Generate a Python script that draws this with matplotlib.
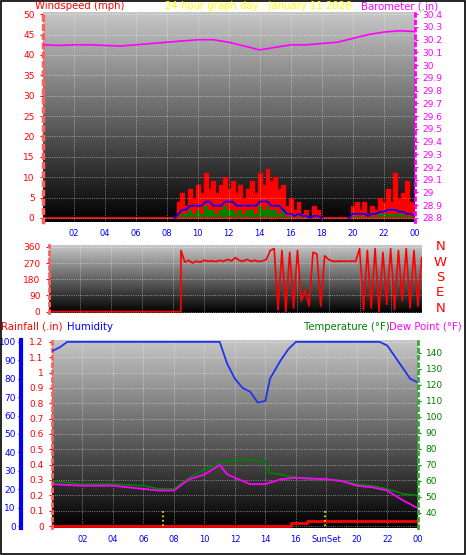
import numpy as np
import matplotlib
matplotlib.use("Agg")
from matplotlib import pyplot as plt
from matplotlib.patches import Rectangle

# ---- data ----
baro_hours = np.arange(0, 25)
baro = [30.16, 30.155, 30.16, 30.16, 30.155, 30.15, 30.16, 30.17, 30.18, 30.19, 30.2, 30.2,
        30.18, 30.15, 30.12, 30.14, 30.16, 30.16, 30.17, 30.18, 30.21, 30.24, 30.26, 30.27, 30.265]

wind_t1 = np.arange(8.5, 18.01, 0.25)
gust1 = [0, 4, 6, 3, 7, 5, 8, 6, 11, 7, 9, 6, 8, 10, 7, 9, 6, 8, 5, 7,
         9, 6, 11, 8, 12, 9, 10, 7, 8, 3, 5, 2, 4, 1, 2, 0, 3, 2, 0]
avg1 = [0, 1, 2, 2, 3, 3, 3, 3, 4, 4, 3, 3, 3, 4, 4, 4, 3, 3, 3, 3,
        3, 3, 4, 4, 4, 3, 3, 3, 2, 1, 1, 0.5, 1, 0.5, 0.5, 0, 0.5, 0.5, 0]
speed1 = [0, 0.5, 1, 1, 2, 1, 2, 1, 3, 2, 2, 1, 2, 3, 2, 2, 1, 2, 1, 2,
          2, 1, 3, 2, 3, 2, 2, 1, 2, 0.5, 0.5, 0, 0.5, 0, 0, 0, 0, 0, 0]
wind_t2 = np.arange(19.75, 24.01, 0.25)
gust2 = [0, 3, 4, 2, 4, 1, 3, 2, 5, 4, 7, 4, 11, 5, 6, 9, 4, 2]
avg2 = [0, 1, 1, 1, 1, 0.5, 1, 1, 1.5, 1.5, 2, 2, 2, 1.5, 1.5, 1, 1, 0.5]
speed2 = [0, 0.5, 0.5, 0.5, 0.5, 0, 0.5, 0.5, 1, 1, 1, 1, 1, 1, 1, 0.5, 0.5, 0.5]

dir_t = np.arange(8.5, 24.01, 0.25)
wind_dir = [340, 275,
            285, 270, 280, 275,
            285, 280, 282, 278,
            285, 280, 290, 282,
            300, 285, 280, 290,
            280, 285, 278, 282,
            290, 340, 350, 10,
            340, 0, 330, 20,
            340, 60, 120, 30,
            330, 320, 30, 310,
            290, 280, 280, 280,
            280, 280, 280, 280,
            350, 10, 340, 20,
            350, 0, 330, 40,
            350, 10, 340, 60,
            350, 20, 340, 30,
            300]

hum_t = [0, 0.5, 1, 11, 11.5, 12, 12.5, 13, 13.5, 14, 14.3, 15, 15.5, 16, 21.5, 22, 22.5, 23, 23.5, 24]
humidity = [95, 97, 100, 100, 88, 80, 75, 73, 67, 68, 80, 90, 96, 100, 100, 98, 92, 86, 80, 78]

temp_t = [0, 2, 4, 6, 7, 8, 9, 10, 11, 11.3, 12, 13, 14, 14.3, 15, 16, 17, 18, 19, 20, 21, 22, 23, 24]
temp = [60, 58, 58, 57, 55, 55, 62, 67, 71, 72, 73, 73, 72, 65, 64, 62, 61, 61, 60, 58, 57, 55, 52, 51]
dew_t = [0, 2, 4, 6, 7, 8, 9, 10, 11, 11.5, 12, 13, 14, 15, 16, 18, 19, 20, 21, 22, 23, 24]
dew = [58, 57, 57, 55, 54, 54, 61, 64, 70, 64, 62, 58, 58, 61, 62, 61, 60, 57, 56, 54, 48, 43]

rain_t = [0, 15.7, 16.7, 23.9, 24]
rain = [0, 0.02, 0.035, 0.035, 0]

hour_ticks = np.arange(2, 25, 2)
hour_labels = ["%02d" % (h % 24) for h in hour_ticks]

fig = plt.figure(figsize=(4.66, 5.55), dpi=100, facecolor="white")
fig.patches.append(Rectangle((0.002, 0.002), 0.996, 0.996, transform=fig.transFigure,
                             fill=False, edgecolor="black", lw=1.2))
grad = np.linspace(0, 0.78, 256).reshape(-1, 1)


def style(ax, ymin, ymax, yticks):
    ax.imshow(grad, extent=[0, 1, 0, 1], transform=ax.transAxes, aspect="auto",
              cmap="gray", vmin=0, vmax=1, origin="lower", zorder=0)
    ax.set_xlim(0, 24)
    ax.set_ylim(ymin, ymax)
    ax.set_xticks(hour_ticks)
    ax.set_yticks(yticks)
    ax.grid(True, color="white", ls=":", lw=0.6, alpha=0.6)
    for s in ax.spines.values():
        s.set_visible(False)
    ax.tick_params(axis="x", colors="blue", labelsize=6, length=0, pad=5)
    ax.tick_params(axis="y", colors="red", labelsize=6.5, length=2, pad=4)


# ---- panel 1: wind + barometer ----
ax1 = fig.add_axes([0.092, 0.6, 0.798, 0.378])
style(ax1, -1, 50.5, np.arange(0, 51, 5))
ax1.set_xticklabels(hour_labels)
ax1.spines["left"].set_visible(True)
ax1.spines["left"].set(color="#ff6060", ls=":", lw=2.5)
for t, g, a, s in [(wind_t1, gust1, avg1, speed1), (wind_t2, gust2, avg2, speed2)]:
    ax1.fill_between(t, 0, g, step="mid", color="red", lw=0)
    ax1.plot(t, g, color="red", lw=1, drawstyle="steps-mid")
    ax1.fill_between(t, 0, s, step="mid", color="green", lw=0)
    ax1.plot(t, a, color="blue", lw=1.3)
ax1.plot([0, 24], [0, 0], color="red", lw=1.3, zorder=1)
axb = ax1.twinx()
axb.set_ylim(28.8 - 0.032, 28.8 + 50.5 * 0.032)
axb.set_yticks(np.round(np.arange(28.8, 30.41, 0.1), 1))
axb.set_yticklabels(["%g" % v for v in np.round(np.arange(28.8, 30.41, 0.1), 1)])
for s in axb.spines.values():
    s.set_visible(False)
axb.spines["right"].set_visible(True)
axb.spines["right"].set(color="magenta", ls=":", lw=2)
axb.tick_params(axis="y", colors="magenta", labelsize=6.5, length=2)
axb.plot(baro_hours, baro, color="magenta", lw=1.2)
fig.text(0.075, 0.989, "Windspeed (mph)", color="red", fontsize=7.3, ha="left", va="center")
fig.text(0.555, 0.989, "24 hour graph day : January 11 2026", color="yellow", fontsize=7.3,
         ha="center", va="center")
fig.text(0.94, 0.989, "Barometer (.in)", color="magenta", fontsize=7.3, ha="right", va="center")

# ---- panel 2: wind direction ----
ax2 = fig.add_axes([0.105, 0.436, 0.8, 0.1225])
style(ax2, -8, 370, [0, 90, 180, 270, 360])
ax2.set_xticklabels([])
ax2.spines["left"].set_visible(True)
ax2.spines["left"].set(color="#ff6060", ls=":", lw=2)
ax2.plot(np.concatenate([[0, 8.49], dir_t]), np.concatenate([[0, 0], wind_dir]),
         color="red", lw=1.2)
for i, lab in enumerate(["N", "W", "S", "E", "N"]):
    fig.text(0.945, 0.555 - i * 0.0275, lab, color="red", fontsize=9.5, ha="center", va="center")

# ---- panel 3: rain, humidity, temperature, dew point ----
ax3 = fig.add_axes([0.1116, 0.0486, 0.785, 0.339])
style(ax3, -0.013, 1.213, np.round(np.arange(0, 1.21, 0.1), 1))
ax3.set_yticklabels(["%g" % v for v in np.round(np.arange(0, 1.21, 0.1), 1)])
lab3 = list(hour_labels)
lab3[8] = "SunSet"
ax3.set_xticklabels(lab3)
ax3.spines["left"].set_visible(True)
ax3.spines["left"].set(color="#ff6060", ls=":", lw=2)
ax3.plot(rain_t, rain, color="red", lw=2, drawstyle="steps-post")
for sx in [7.3, 17.9]:
    ax3.plot([sx, sx], [0, 0.1], color="yellow", ls=":", lw=1.2)

axh = ax3.twinx()
axh.set_ylim(-1.1, 101.1)
axh.set_yticks(np.arange(0, 101, 10))
for s in axh.spines.values():
    s.set_visible(False)
axh.spines["left"].set_visible(True)
axh.spines["left"].set(color="blue", lw=3)
axh.spines["left"].set_position(("outward", 22))
axh.yaxis.set_ticks_position("left")
axh.yaxis.set_label_position("left")
axh.tick_params(axis="y", colors="blue", labelsize=6.5, length=2, pad=2)
axh.plot(hum_t, humidity, color="#2233ee", lw=1.3)

axt = ax3.twinx()
axt.set_ylim(30.6, 148)
axt.set_yticks(np.arange(40, 141, 10))
for s in axt.spines.values():
    s.set_visible(False)
axt.spines["right"].set_visible(True)
axt.spines["right"].set(color="#33aa33", ls=":", lw=2)
axt.tick_params(axis="y", colors="green", labelsize=6.5, length=2)
axt.plot(temp_t, temp, color="green", lw=1.3)
axt.plot(dew_t, dew, color="magenta", lw=1.3)

fig.text(0.003, 0.411, "Rainfall (.in)", color="red", fontsize=7.3, ha="left", va="center")
fig.text(0.143, 0.411, "Humidity", color="blue", fontsize=7.3, ha="left", va="center")
fig.text(0.836, 0.411, "Temperature (°F)", color="green", fontsize=7.3, ha="right", va="center")
fig.text(0.99, 0.411, "Dew Point (°F)", color="magenta", fontsize=7.3, ha="right", va="center")

fig.savefig("out.png", dpi=100, facecolor="white")
